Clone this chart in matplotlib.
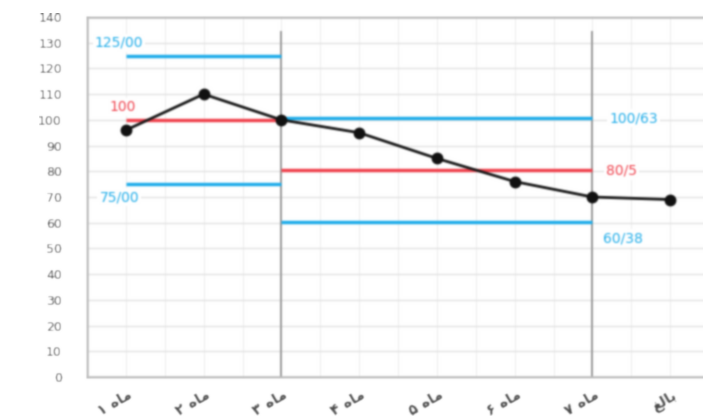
import matplotlib
matplotlib.use("Agg")
import numpy as np
import matplotlib.pyplot as plt
from matplotlib.ticker import MultipleLocator
import matplotlib.transforms as mtransforms

# ---- data -------------------------------------------------------------
categories = ["ماه ۱", "ماه ۲", "ماه ۳", "ماه ۴", "ماه ۵", "ماه ۶", "ماه ۷", "بالغ"]
values = [96, 110, 100, 95, 85, 76, 70, 69]

# reference bands: (value, label, colour key, first category, last category)
ref_lines = [
    (125.00, "125/00", "blue", 0, 2),
    (100.00, "100", "red", 0, 2),
    (75.00, "75/00", "blue", 0, 2),
    (100.63, "100/63", "blue", 2, 6),
    (80.5, "80/5", "red", 2, 6),
    (60.38, "60/38", "blue", 2, 6),
]
divider_cats = [2, 6]
divider_top = 134

BLUE = "#22aeea"
RED = "#f0444f"
colors = {"blue": BLUE, "red": RED}

# ---- minimal Arabic-script shaping for the axis labels -----------------
FORMS = {  # isolated, final, initial, medial
    "ا": ("\uFE8D", "\uFE8E", None, None),
    "ب": ("\uFE8F", "\uFE90", "\uFE91", "\uFE92"),
    "ل": ("\uFEDD", "\uFEDE", "\uFEDF", "\uFEE0"),
    "غ": ("\uFECD", "\uFECE", "\uFECF", "\uFED0"),
    "م": ("\uFEE1", "\uFEE2", "\uFEE3", "\uFEE4"),
    "ه": ("\uFEE9", "\uFEEA", "\uFEEB", "\uFEEC"),
}


def shape_word(word):
    out = []
    for i, ch in enumerate(word):
        if ch not in FORMS:
            out.append(ch)
            continue
        prev = word[i - 1] if i > 0 else None
        nxt = word[i + 1] if i + 1 < len(word) else None
        j_prev = prev in FORMS and FORMS[prev][2] is not None
        j_next = nxt in FORMS and FORMS[ch][2] is not None
        iso, fin, ini, med = FORMS[ch]
        if j_prev and j_next:
            out.append(med)
        elif j_prev:
            out.append(fin)
        elif j_next:
            out.append(ini)
        else:
            out.append(iso)
    if any(c in FORMS for c in word):
        out = out[::-1]
    return "".join(out)


def visual(label):
    return " ".join(shape_word(w) for w in label.split(" ")[::-1])


# ---- soft-focus filter --------------------------------------------------
def gaussian_blur(sigma):
    r = int(3 * sigma) + 1
    k = np.exp(-0.5 * (np.arange(-r, r + 1) / sigma) ** 2)
    k /= k.sum()

    def f(img, dpi):
        out = img.copy()
        pad = np.pad(out, ((r, r), (r, r), (0, 0)), mode="edge")
        tmp = np.zeros_like(pad)
        for i, w in enumerate(k):
            tmp[:, r:-r] += w * pad[:, i:i + out.shape[1]]
        res = np.zeros_like(out)
        for i, w in enumerate(k):
            res += w * tmp[i:i + out.shape[0], r:-r]
        return res, 0, 0

    return f


# ---- figure -----------------------------------------------------------
fig = plt.figure(figsize=(7.03, 4.19), dpi=100)
W, H = 703, 419
ax = fig.add_axes([87 / W, 42 / H, 622 / W, 360 / H])

x = list(range(len(categories)))
ax.set_xlim(-0.5, len(categories) - 0.5)
ax.set_ylim(0, 140)

ax.yaxis.set_major_locator(MultipleLocator(10))
ax.xaxis.set_major_locator(MultipleLocator(1))
ax.xaxis.set_minor_locator(MultipleLocator(0.5))
ax.grid(True, which="major", axis="y", color="#e2e2e2", lw=1.0)
ax.grid(True, which="both", axis="x", color="#eeeeee", lw=0.8)
ax.set_axisbelow(True)

for s in ax.spines.values():
    s.set_color("#bdbdbd")
    s.set_linewidth(1.8)

ax.tick_params(axis="both", which="both", length=0)
ax.tick_params(axis="y", pad=18, labelsize=9, labelcolor="#454545")
ax.set_yticks(range(0, 141, 10))
ax.set_yticklabels([str(v) for v in range(0, 141, 10)])

ax.set_xticks(x)
ax.set_xticklabels([visual(c) for c in categories], rotation=30,
                   ha="right", rotation_mode="anchor", fontsize=10.5,
                   fontweight="bold", color="#454545", family=["DejaVu Sans"])
offset = mtransforms.ScaledTranslation(1 / 72, -4 / 72, fig.dpi_scale_trans)
for lab in ax.get_xticklabels():
    lab.set_transform(lab.get_transform() + offset)

# vertical dividers
for c in divider_cats:
    ax.plot([c, c], [0, divider_top], color="#9a9a9a", lw=1.4, zorder=2)

# reference levels
for val, lab, ck, c0, c1 in ref_lines:
    ax.plot([c0, c1], [val, val], color=colors[ck], lw=2.5, zorder=3,
            solid_capstyle="butt")

label_pos = {
    "125/00": (-0.40, 130),
    "100": (-0.21, 105),
    "75/00": (-0.34, 70),
    "100/63": (6.22, 100.6),
    "80/5": (6.18, 80.3),
    "60/38": (6.14, 54),
}
for val, lab, ck, c0, c1 in ref_lines:
    lx, ly = label_pos[lab]
    ax.text(lx, ly, lab, color=colors[ck], fontsize=10, ha="left",
            va="center", zorder=4,
            bbox=dict(facecolor="white", edgecolor="none", pad=1.5))

# measured series
ax.plot(x, values, color="#1a1a1a", lw=2.0, marker="o", markersize=7.5,
        markerfacecolor="#111111", markeredgecolor="#111111", zorder=5)

ax.set_agg_filter(gaussian_blur(0.9))

fig.savefig("out.png", dpi=100)
